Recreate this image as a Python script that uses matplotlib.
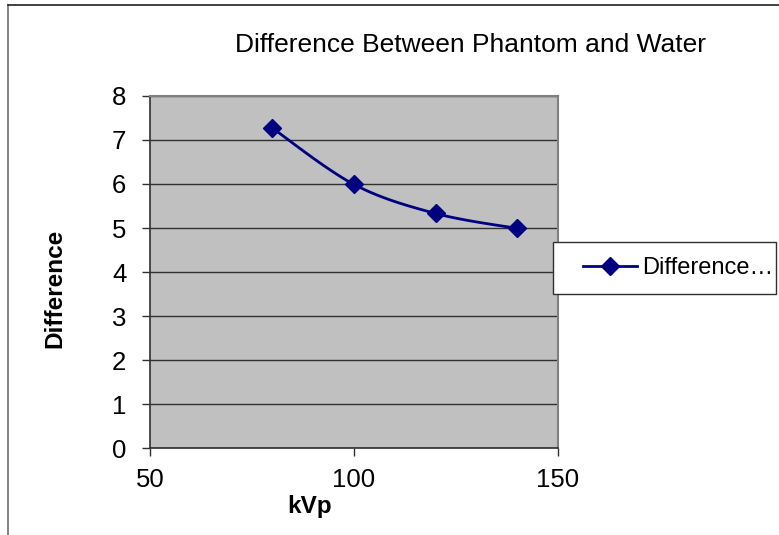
import matplotlib.pyplot as plt
import matplotlib.patches as mpatches
from matplotlib.lines import Line2D
import numpy as np

plt.rcParams['font.family'] = ['Liberation Sans', 'DejaVu Sans']

# Data
kvp = [80, 100, 120, 140]
difference = [7.27, 5.99, 5.33, 4.99]
x_ticks = [50, 100, 150]
y_ticks = [0, 1, 2, 3, 4, 5, 6, 7, 8]

NAVY = '#000080'
PLOT_BG = '#C0C0C0'
W, H = 779, 535


def excel_smooth(xs, ys, n=40):
    # Bezier smoothing similar to Excel's "smoothed line"
    xs = np.asarray(xs, float)
    ys = np.asarray(ys, float)
    px = np.concatenate([[xs[0]], xs, [xs[-1]]])
    py = np.concatenate([[ys[0]], ys, [ys[-1]]])
    out_x, out_y = [], []
    t = np.linspace(0, 1, n)
    for i in range(1, len(px) - 2):
        p0 = np.array([px[i], py[i]])
        p3 = np.array([px[i + 1], py[i + 1]])
        p1 = p0 + (np.array([px[i + 1], py[i + 1]]) - np.array([px[i - 1], py[i - 1]])) / 6
        p2 = p3 - (np.array([px[i + 2], py[i + 2]]) - np.array([px[i], py[i]])) / 6
        b = ((1 - t) ** 3)[:, None] * p0 + (3 * (1 - t) ** 2 * t)[:, None] * p1 \
            + (3 * (1 - t) * t ** 2)[:, None] * p2 + (t ** 3)[:, None] * p3
        out_x.extend(b[:, 0])
        out_y.extend(b[:, 1])
    return out_x, out_y


def fx(px):
    return px / W


def fy(py):
    return 1 - py / H


fig = plt.figure(figsize=(7.79, 5.35), dpi=100, facecolor='white')
ax = fig.add_axes([fx(150), fy(448), fx(558) - fx(150), fy(96) - fy(448)])
ax.set_facecolor(PLOT_BG)

sx, sy = excel_smooth(kvp, difference)
ax.plot(sx, sy, color=NAVY, linewidth=2, zorder=4)
ax.plot(kvp, difference, linestyle='none', marker='D', markersize=9.5,
        color=NAVY, zorder=5)

ax.set_xlim(50, 150)
ax.set_ylim(0, 8)
ax.set_xticks(x_ticks)
ax.set_yticks(y_ticks)
ax.tick_params(axis='both', labelsize=18.5, direction='out', length=6,
               width=1, color='#303030')
ax.tick_params(axis='y', pad=11)
ax.tick_params(axis='x', pad=8.5)

ax.yaxis.grid(True, color='#303030', linewidth=1)
ax.set_axisbelow(True)

for side in ['top', 'right']:
    ax.spines[side].set_color('#808080')
    ax.spines[side].set_linewidth(1.5)
for side in ['left', 'bottom']:
    ax.spines[side].set_color('#303030')
    ax.spines[side].set_linewidth(1.2)

# Axis titles
fig.text(fx(310), fy(513), 'kVp', fontsize=17.5, fontweight='bold',
         ha='center', va='baseline')
fig.text(fx(55), fy(288), 'Difference', fontsize=17.5, fontweight='bold',
         ha='center', va='center', rotation=90)

# Chart title
fig.text(fx(470), fy(52), 'Difference Between Phantom and Water', fontsize=19,
         ha='center', va='baseline')

# Legend box
fig.patches.append(mpatches.Rectangle((fx(552.5), fy(294)), fx(776) - fx(552.5),
                                      fy(242) - fy(294), transform=fig.transFigure,
                                      facecolor='white', edgecolor='#303030',
                                      linewidth=1, zorder=3))
handle = Line2D([0], [0], color=NAVY, linewidth=2, marker='D', markersize=9)
leg = fig.legend([handle], ['Difference…'], loc='center left',
                 bbox_to_anchor=(fx(583), fy(268)), fontsize=17, frameon=False,
                 borderpad=0, borderaxespad=0, handlelength=2.3,
                 handletextpad=0.2)
leg.set_zorder(4)

# Chart area border (left and top edges visible)
fig.add_artist(Line2D([fx(8), fx(8)], [0, fy(5)], color='#707070', linewidth=1.2))
fig.add_artist(Line2D([fx(8), 1], [fy(5), fy(5)], color='#202020', linewidth=1.2))

fig.savefig('out.png', dpi=100, facecolor='white')
